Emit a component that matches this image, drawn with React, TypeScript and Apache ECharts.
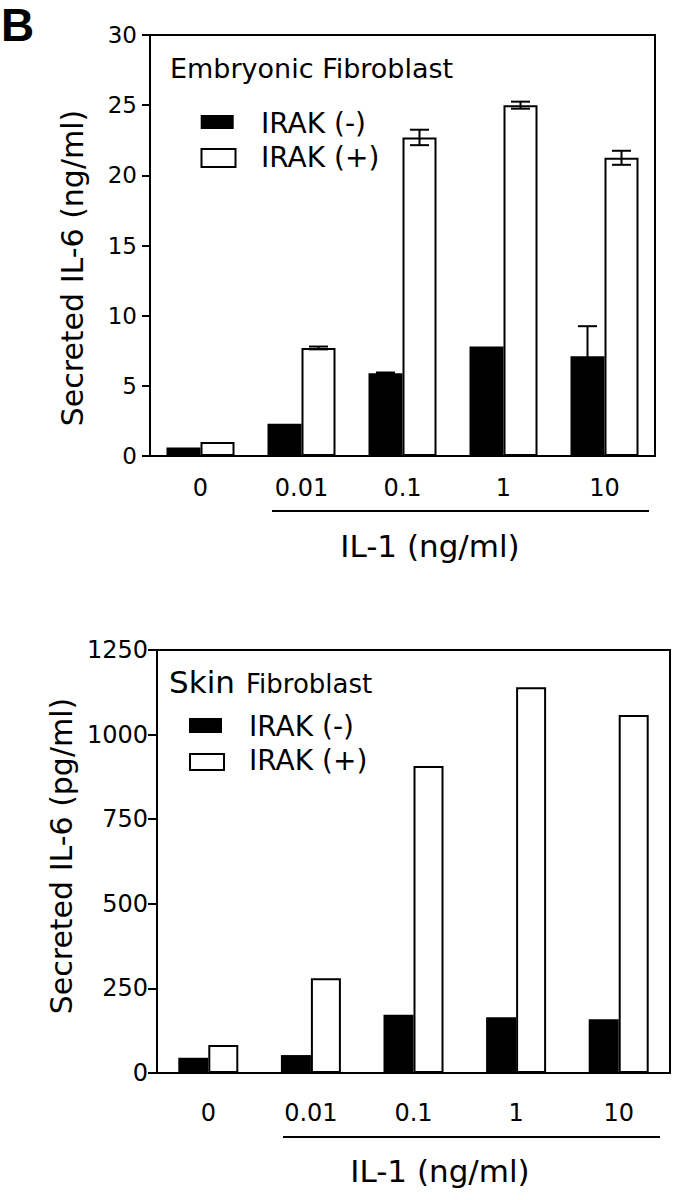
import React, { useEffect, useRef } from "react";
import * as echarts from "echarts";

// ---------- data ----------
const doses = ["0", "0.01", "0.1", "1", "10"];

// Panel 1: Embryonic fibroblast, secreted IL-6 (ng/ml)
const embryoIrakNeg = [0.6, 2.3, 5.9, 7.8, 7.1];
const embryoIrakPos = [1.0, 7.7, 22.7, 25.0, 21.25];
const embryoIrakNegErr = [0, 0, 0.05, 0, 2.15];
const embryoIrakPosErr = [0, 0.1, 0.55, 0.25, 0.5];
const embryoYMax = 30;
const embryoYStep = 5;

// Panel 2: Skin fibroblast, secreted IL-6 (pg/ml)
const skinIrakNeg = [45, 53, 172, 165, 159];
const skinIrakPos = [83, 280, 907, 1140, 1058];
const skinYMax = 1250;
const skinYStep = 250;

const seriesNames = ["IRAK (-)", "IRAK (+)"];

const FONT = "DejaVu Sans";

function errorSeries(
  values: number[],
  errs: number[],
  axisIndex: number,
  side: number,
  barW: number
) {
  return {
    type: "custom",
    xAxisIndex: axisIndex,
    yAxisIndex: axisIndex,
    z: 10,
    silent: true,
    data: values.map((v, i) => [i, v, errs[i]]),
    renderItem: (params: any, api: any) => {
      const i = api.value(0);
      const v = api.value(1);
      const e = api.value(2);
      if (!e) return null;
      const top = api.coord([i, v + e]);
      const bot = api.coord([i, v - e]);
      const x = top[0] + (side * barW) / 2;
      const cap = 9.5;
      const style = { stroke: "#000", lineWidth: 2 };
      return {
        type: "group",
        children: [
          { type: "line", shape: { x1: x, y1: top[1], x2: x, y2: bot[1] }, style },
          { type: "line", shape: { x1: x - cap, y1: top[1], x2: x + cap, y2: top[1] }, style },
          { type: "line", shape: { x1: x - cap, y1: bot[1], x2: x + cap, y2: bot[1] }, style },
        ],
      };
    },
  };
}

function yAxis(gridIndex: number, max: number, step: number, fontSize: number, margin: number, tickLen: number) {
  return {
    type: "value",
    gridIndex,
    min: 0,
    max,
    interval: step,
    axisLine: { show: true, lineStyle: { color: "#000", width: 2 } },
    axisTick: { show: true, inside: false, length: tickLen, lineStyle: { color: "#000", width: 2 } },
    splitLine: { show: false },
    axisLabel: {
      color: "#000",
      fontFamily: FONT,
      fontSize,
      margin,
      formatter: (v: number) => String(v),
    },
  };
}

function xAxis(gridIndex: number, margin: number) {
  return {
    type: "category",
    gridIndex,
    data: doses,
    axisLine: { show: true, lineStyle: { color: "#000", width: 2 } },
    axisTick: { show: false },
    axisLabel: { color: "#000", fontFamily: FONT, fontSize: 24, margin },
  };
}

function txt(text: string, x: number, y: number, fontSize: number, extra: any = {}, rotation = 0) {
  return {
    type: "text",
    x,
    y,
    rotation,
    silent: true,
    style: {
      text,
      fill: "#000",
      fontFamily: FONT,
      fontSize,
      align: "left",
      verticalAlign: "middle",
      ...extra,
    },
  };
}

function rect(x: number, y: number, w: number, h: number, filled: boolean) {
  return {
    type: "rect",
    silent: true,
    shape: { x, y, width: w, height: h },
    style: filled
      ? { fill: "#000", stroke: "#000", lineWidth: 0 }
      : { fill: "#fff", stroke: "#000", lineWidth: 2 },
  };
}

function hline(x1: number, x2: number, y: number) {
  return {
    type: "line",
    silent: true,
    shape: { x1, y1: y, x2, y2: y },
    style: { stroke: "#000", lineWidth: 2 },
  };
}

export default function App() {
  const ref = useRef<HTMLDivElement>(null);

  useEffect(() => {
    if (!ref.current) return;
    const chart = echarts.init(ref.current, undefined, { renderer: "svg" });
    const topBarW = 34;
    const botBarW = 30;

    const option: any = {
      animation: false,
      backgroundColor: "#fff",
      grid: [
        { left: 150, top: 35, width: 505, height: 421, show: true, borderColor: "#000", borderWidth: 2, backgroundColor: "transparent" },
        { left: 157, top: 650, width: 513, height: 423, show: true, borderColor: "#000", borderWidth: 2, backgroundColor: "transparent" },
      ],
      xAxis: [xAxis(0, 20), xAxis(1, 28)],
      yAxis: [
        yAxis(0, embryoYMax, embryoYStep, 23, 13, 8),
        yAxis(1, skinYMax, skinYStep, 24, 9, 9),
      ],
      series: [
        {
          name: seriesNames[0],
          type: "bar",
          xAxisIndex: 0,
          yAxisIndex: 0,
          data: embryoIrakNeg,
          barWidth: topBarW,
          barGap: "0%",
          itemStyle: { color: "#000" },
        },
        {
          name: seriesNames[1],
          type: "bar",
          xAxisIndex: 0,
          yAxisIndex: 0,
          data: embryoIrakPos,
          barWidth: topBarW,
          barGap: "0%",
          itemStyle: { color: "#fff", borderColor: "#000", borderWidth: 2 },
        },
        errorSeries(embryoIrakNeg, embryoIrakNegErr, 0, -1, topBarW),
        errorSeries(embryoIrakPos, embryoIrakPosErr, 0, 1, topBarW),
        {
          name: seriesNames[0],
          type: "bar",
          xAxisIndex: 1,
          yAxisIndex: 1,
          data: skinIrakNeg,
          barWidth: botBarW,
          barGap: "0%",
          itemStyle: { color: "#000" },
        },
        {
          name: seriesNames[1],
          type: "bar",
          xAxisIndex: 1,
          yAxisIndex: 1,
          data: skinIrakPos,
          barWidth: botBarW,
          barGap: "0%",
          itemStyle: { color: "#fff", borderColor: "#000", borderWidth: 2 },
        },
      ],
      graphic: [
        txt("B", 1, 25, 46, { fontFamily: "Liberation Sans", fontWeight: "bold" }),
        // top panel
        txt("Embryonic Fibroblast", 170, 68, 27),
        rect(200.7, 115, 33, 14, true),
        rect(201.5, 149, 34, 18, false),
        txt(seriesNames[0], 261, 123, 28),
        txt(seriesNames[1], 261, 157, 28),
        hline(272, 649, 511),
        txt("IL-1 (ng/ml)", 430, 546, 31, { align: "center" }),
        txt("Secreted IL-6 (ng/ml)", 72, 268, 30, { align: "center" }, Math.PI / 2),
        // bottom panel
        txt("Skin", 169, 682, 31),
        txt("Fibroblast", 246, 684, 26),
        rect(189, 718, 33, 15, true),
        rect(190, 754, 34, 16, false),
        txt(seriesNames[0], 249, 726, 28),
        txt(seriesNames[1], 249, 760, 28),
        hline(283, 660, 1137),
        txt("IL-1 (ng/ml)", 440, 1171, 31, { align: "center" }),
        txt("Secreted IL-6 (pg/ml)", 61, 856, 30, { align: "center" }, Math.PI / 2),
      ],
    };

    chart.setOption(option);
    return () => chart.dispose();
  }, []);

  return (
    <div
      ref={ref}
      style={{ position: "absolute", left: 0, top: 0, width: 676, height: 1200, background: "#fff" }}
    />
  );
}
